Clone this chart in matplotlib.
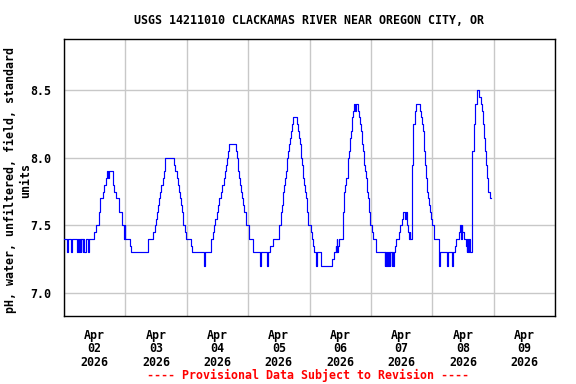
import datetime as dt
import matplotlib
matplotlib.use("Agg")
import matplotlib.pyplot as plt
import matplotlib.dates as mdates
from matplotlib.ticker import FixedLocator, FormatStrFormatter

# ---- data: change points (hour within day, pH value) ----
day0_hours = [0.0, 1.1, 1.4, 2.8, 3.0, 5.2, 5.5, 5.8, 6.3, 6.5, 6.8, 7.3, 7.6, 7.9, 8.5, 9.3, 9.6,
              11.9, 12.4, 13.6, 14.2, 15.1, 15.8, 16.3, 17.0, 17.2, 17.6, 19.0, 19.3, 19.6, 20.3,
              21.4, 22.7, 23.5, 23.7, 23.9]
day0_values = [7.4, 7.3, 7.4, 7.3, 7.4, 7.3, 7.4, 7.3, 7.4, 7.3, 7.4, 7.3, 7.4, 7.3, 7.4, 7.3, 7.4,
               7.45, 7.5, 7.6, 7.7, 7.75, 7.8, 7.85, 7.9, 7.85, 7.9, 7.85, 7.8, 7.75, 7.7,
               7.6, 7.5, 7.4, 7.5, 7.4]

day1_hours = [0.0, 1.9, 2.3, 8.8, 10.7, 11.5, 12.0, 12.4, 12.7, 13.1, 13.6, 14.1, 14.6, 15.0, 15.5,
              19.1, 19.5, 20.0, 20.4, 20.8, 21.2, 21.7, 22.2, 22.7, 23.2, 23.8]
day1_values = [7.4, 7.35, 7.3, 7.4, 7.45, 7.5, 7.55, 7.6, 7.65, 7.7, 7.75, 7.8, 7.85, 7.9, 8.0,
               7.95, 7.9, 7.85, 7.8, 7.75, 7.7, 7.65, 7.6, 7.5, 7.45, 7.4]

day2_hours = [0.0, 1.6, 2.2, 6.8, 7.3, 9.5, 10.2, 10.7, 11.2, 11.8, 12.3, 12.8, 13.5, 13.8, 14.4,
              14.9, 15.5, 15.9, 16.2, 16.7, 19.1, 19.6, 20.0, 20.2, 20.5, 20.9, 21.3, 21.7, 22.1,
              22.5, 23.0]
day2_values = [7.4, 7.35, 7.3, 7.2, 7.3, 7.4, 7.45, 7.5, 7.55, 7.6, 7.65, 7.7, 7.75, 7.8, 7.85,
               7.9, 7.95, 8.0, 8.05, 8.1, 8.05, 8.0, 7.95, 7.9, 7.85, 7.8, 7.75, 7.7, 7.65,
               7.6, 7.5]

day3_hours = [0.0, 0.3, 2.0, 4.6, 5.0, 7.2, 7.6, 8.4, 9.7, 12.0, 12.7, 13.1, 13.5, 13.8, 14.1,
              14.4, 14.8, 15.1, 15.3, 15.7, 15.9, 16.3, 16.7, 17.1, 17.5, 19.1, 19.6, 19.9, 20.1,
              20.5, 20.8, 21.0, 21.3, 21.5, 21.8, 22.2, 22.5, 22.9, 23.1, 23.5]
day3_values = [7.5, 7.4, 7.3, 7.2, 7.3, 7.2, 7.3, 7.35, 7.4, 7.5, 7.6, 7.65, 7.7, 7.75, 7.8,
               7.85, 7.9, 7.95, 8.0, 8.05, 8.1, 8.15, 8.2, 8.25, 8.3, 8.25, 8.2, 8.15, 8.1,
               8.05, 8.0, 7.95, 7.9, 7.85, 7.8, 7.75, 7.7, 7.65, 7.6, 7.5]

day4_hours = [0.0, 0.4, 1.0, 1.3, 1.6, 2.4, 2.9, 4.6, 8.9, 9.4, 10.2, 10.4, 10.7, 10.9, 11.2,
              11.5, 13.1, 13.3, 13.6, 14.0, 14.4, 14.9, 15.1, 15.4, 15.7, 15.9, 16.2, 16.5, 16.7,
              17.0, 17.4, 17.8, 18.2, 19.1, 19.5, 19.9, 20.1, 20.4, 20.6, 20.9, 21.2, 21.4, 21.7,
              21.9, 22.3, 22.6, 22.9, 23.1, 23.4, 23.6]
day4_values = [7.5, 7.45, 7.4, 7.35, 7.3, 7.2, 7.3, 7.2, 7.25, 7.3, 7.35, 7.3, 7.4, 7.3, 7.35,
               7.4, 7.6, 7.65, 7.75, 7.8, 7.85, 7.9, 8.0, 8.05, 8.1, 8.15, 8.2, 8.25, 8.3,
               8.35, 8.4, 8.35, 8.4, 8.35, 8.3, 8.25, 8.2, 8.15, 8.1, 8.05, 8.0, 7.95, 7.9,
               7.85, 7.8, 7.75, 7.7, 7.65, 7.6, 7.5]

day5_hours = [0.0, 0.4, 1.0, 2.0, 5.4, 5.6, 5.9, 6.2, 6.6, 6.9, 7.3, 7.6, 8.1, 8.4, 8.7, 9.0,
              9.5, 9.9, 11.0, 11.5, 12.0, 12.5, 13.2, 13.6, 14.3, 14.6, 14.9, 15.2, 15.4, 16.0,
              16.5, 17.1, 17.5, 19.1, 19.6, 20.0, 20.2, 20.6, 20.9, 21.3, 21.7, 22.1, 22.5, 22.9,
              23.2, 23.6]
day5_values = [7.5, 7.45, 7.4, 7.3, 7.2, 7.3, 7.2, 7.3, 7.2, 7.3, 7.2, 7.3, 7.2, 7.3, 7.2, 7.3,
               7.35, 7.4, 7.45, 7.5, 7.55, 7.6, 7.55, 7.6, 7.5, 7.45, 7.4, 7.45, 7.4, 7.95,
               8.25, 8.35, 8.4, 8.35, 8.3, 8.25, 8.2, 8.1, 8.05, 7.95, 7.85, 7.75, 7.7, 7.65,
               7.6, 7.55]

day6_hours = [0.0, 0.65, 2.6, 2.8, 3.1, 5.8, 6.1, 7.9, 8.2, 8.9, 9.4, 10.4, 11.0, 11.3, 11.6,
              11.8, 12.3, 13.1, 13.4, 13.7, 14.1, 14.3, 14.6, 15.7, 16.2, 16.7, 17.4, 18.3, 18.9,
              19.3, 19.9, 20.2, 20.8, 21.0, 21.4, 21.9, 22.5, 22.9]
day6_values = [7.5, 7.4, 7.35, 7.2, 7.3, 7.2, 7.3, 7.2, 7.3, 7.35, 7.4, 7.45, 7.5, 7.4, 7.5,
               7.45, 7.4, 7.35, 7.3, 7.4, 7.3, 7.4, 7.3, 8.05, 8.25, 8.4, 8.5, 8.45, 8.4,
               8.35, 8.25, 8.15, 8.05, 7.95, 7.85, 7.75, 7.7, 7.7]

y_ticks = [7.0, 7.5, 8.0, 8.5]
start_date = dt.datetime(2026, 4, 2)
n_days = 8

title = "USGS 14211010 CLACKAMAS RIVER NEAR OREGON CITY, OR"
ylabel = "pH, water, unfiltered, field, standard\nunits"
footer = "---- Provisional Data Subject to Revision ----"

# ---- assemble series ----
all_hours = [day0_hours, day1_hours, day2_hours, day3_hours, day4_hours, day5_hours, day6_hours]
all_values = [day0_values, day1_values, day2_values, day3_values, day4_values, day5_values, day6_values]
times, vals = [], []
for d, (hs, vs) in enumerate(zip(all_hours, all_values)):
    for h, v in zip(hs, vs):
        times.append(start_date + dt.timedelta(hours=24 * d + h))
        vals.append(v)

# ---- figure ----
FONT = dict(family="DejaVu Sans Mono", weight="bold")
FS = 8.4

fig = plt.figure(figsize=(5.76, 3.84), dpi=100)
ax = fig.add_axes([64 / 576, 1 - 316 / 384, (555 - 64) / 576, (316 - 39) / 384])

ax.plot(times, vals, drawstyle="steps-post", color="#0000FF", lw=0.85, zorder=3)

ax.set_xlim(start_date, start_date + dt.timedelta(days=n_days))
ax.set_ylim(6.83, 8.88)

ax.xaxis.set_major_locator(mdates.DayLocator())
ax.xaxis.set_major_formatter(plt.NullFormatter())
ax.xaxis.set_minor_locator(mdates.HourLocator(byhour=[12]))
ax.xaxis.set_minor_formatter(mdates.DateFormatter("%b\n%d\n%Y"))
ax.tick_params(axis="x", which="both", length=0, pad=9)
for lab in ax.get_xticklabels(minor=True):
    lab.set_fontproperties(matplotlib.font_manager.FontProperties(size=FS, **FONT))
    lab.set_linespacing(1.08)

ax.yaxis.set_major_locator(FixedLocator(y_ticks))
ax.yaxis.set_major_formatter(FormatStrFormatter("%.1f"))
ax.tick_params(axis="y", which="both", length=0, pad=9)
for lab in ax.get_yticklabels():
    lab.set_fontproperties(matplotlib.font_manager.FontProperties(size=FS, **FONT))

ax.grid(True, which="major", color="#c8c8c8", lw=1.0, zorder=0)
ax.set_axisbelow(True)
for s in ax.spines.values():
    s.set_color("black")
    s.set_linewidth(1.0)

fig.text(309.5 / 576, 1 - 20 / 384, title, ha="center", va="center", fontsize=FS, **FONT)
fig.text(18 / 576, 1 - 180 / 384, ylabel, ha="center", va="center", rotation=90,
         multialignment="center", fontsize=FS, linespacing=1.2, **FONT)
fig.text(308 / 576, 1 - 375 / 384, footer, ha="center", va="center", color="#FF0000",
         fontsize=FS, **FONT)

fig.savefig("out.png", dpi=100)
